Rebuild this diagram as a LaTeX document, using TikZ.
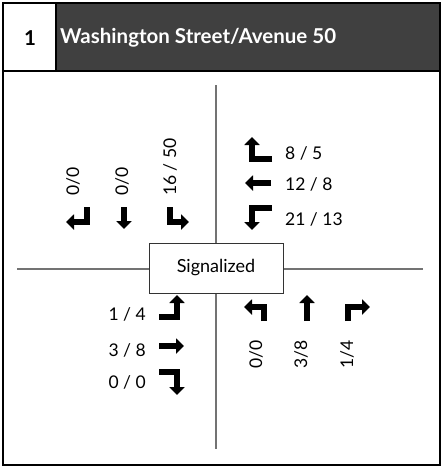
\documentclass[tikz,border=0pt]{standalone}
\usepackage{fontspec}
\setmainfont{Lato}
\usetikzlibrary{arrows.meta}

\begin{document}
\begin{tikzpicture}[
    x=1pt, y=-1pt,
    frame/.style={draw=black, line width=1.6pt},
    road/.style={draw=black!55, line width=1.3pt},
    mv/.style={line width=6pt, -{Triangle[length=8pt,width=15pt]}},
    vol/.style={font=\fontsize{17.5}{18}\selectfont, inner sep=0pt},
    hdrtxt/.style={font=\fontsize{20.5}{21}\selectfont\bfseries, inner sep=0pt},
  ]
  \useasboundingbox (0,0) rectangle (441,467);

  % header
  \fill[black!75] (56,3) rectangle (440,71);
  \draw[frame] (3,3) rectangle (440,465);
  \draw[frame] (3,71) -- (440,71);
  \draw[frame] (56,3) -- (56,71);
  \node[hdrtxt] (num) at (30,38) {1};
  \node[hdrtxt, text=white, anchor=west] (title) at (60,38) {Washington Street/Avenue 50};

  % roads
  \draw[road] (216,85) -- (216,449);
  \draw[road] (17,269) -- (423,269);
  \node[draw=black!80, line width=0.8pt, fill=white, minimum width=134, minimum height=50,
        font=\fontsize{18}{18}\selectfont] (ctrl) at (216,268) {Signalized};

  % southbound
  \draw[mv] (87,207) -- (87,222) -- (66,222);
  \draw[mv] (124,207) -- (124,229);
  \draw[mv] (170,207) -- (170,222) -- (189,222);
  \node[vol, rotate=90, anchor=west] (sbr) at (73,196) {0/0};
  \node[vol, rotate=90, anchor=west] (sbt) at (122,196) {0/0};
  \node[vol, rotate=90, anchor=west] (sbl) at (170,196) {16 / 50};

  % westbound
  \draw[mv] (272,159) -- (252,159) -- (252,137);
  \draw[mv] (271,183) -- (245,183);
  \draw[mv] (272,208) -- (252,208) -- (252,230);
  \node[vol, anchor=west] (wbr) at (285,153) {8 / 5};
  \node[vol, anchor=west] (wbt) at (285,184) {12 / 8};
  \node[vol, anchor=west] (wbl) at (285,219) {21 / 13};

  % eastbound
  \draw[mv] (159,317) -- (177,317) -- (177,295);
  \draw[mv] (159,346) -- (184,346);
  \draw[mv] (159,372) -- (177,372) -- (177,395);
  \node[vol, anchor=east] (ebl) at (146,314) {1 / 4};
  \node[vol, anchor=east] (ebt) at (146,350) {3 / 8};
  \node[vol, anchor=east] (ebr) at (146,382) {0 / 0};

  % northbound
  \draw[mv] (264,321) -- (264,307) -- (244,307);
  \draw[mv] (307,321) -- (307,295);
  \draw[mv] (348,321) -- (348,307) -- (370,307);
  \node[vol, rotate=90, anchor=east] (nbl) at (256,340) {0/0};
  \node[vol, rotate=90, anchor=east] (nbt) at (301,340) {3/8};
  \node[vol, rotate=90, anchor=east] (nbr) at (347,340) {1/4};
\end{tikzpicture}
\end{document}
